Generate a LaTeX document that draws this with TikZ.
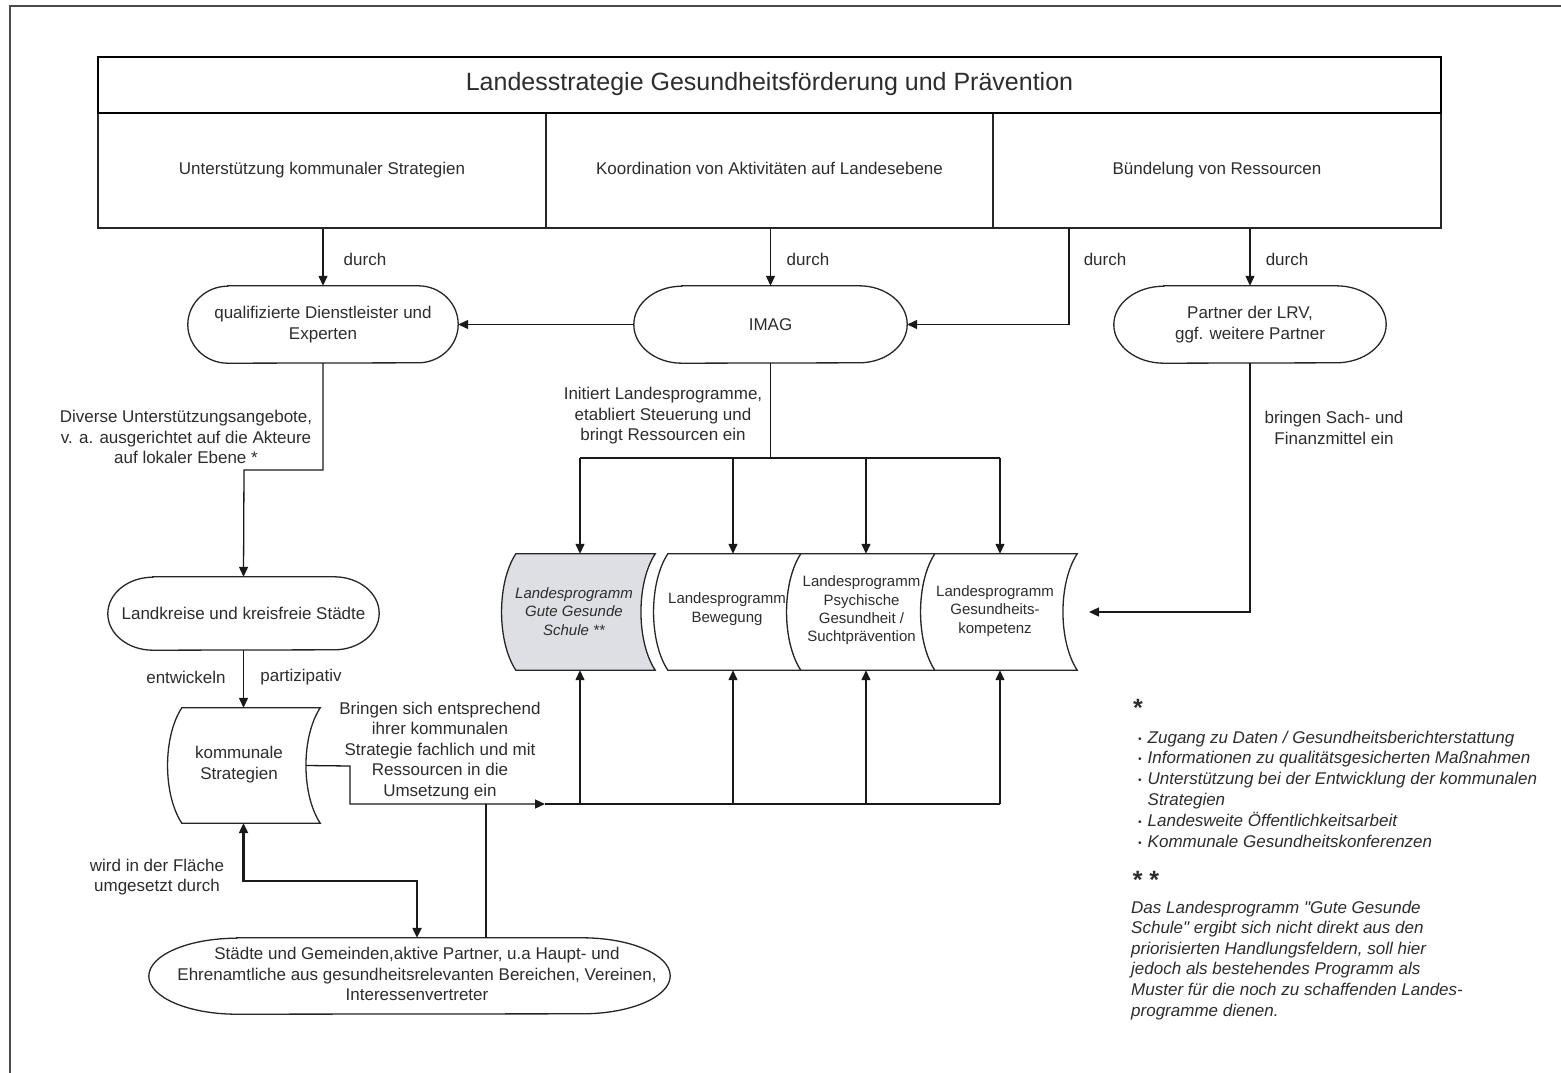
\documentclass[tikz,border=0pt]{standalone}
\usepackage{fontspec}
\setmainfont{Liberation Sans}[Ligatures=TeXOff]
\usetikzlibrary{arrows.meta,calc}
\definecolor{txt}{RGB}{45,45,45}
\definecolor{grayfill}{RGB}{221,223,228}
\tikzset{
  arr/.style={line width=1.3pt, draw=black!90, -{Triangle[length=10pt,width=9pt]}},
  dblarr/.style={line width=2.2pt, draw=black!90, {Triangle[length=10pt,width=9pt]}-{Triangle[length=10pt,width=9pt]}},
  conn/.style={line width=1.3pt, draw=black!90},
  lbl/.style={font=\fontsize{17}{20.5}\selectfont, text=txt, align=center, inner sep=0pt},
  plbl/.style={font=\fontsize{15}{18.3}\selectfont, text=txt, align=center, inner sep=0pt},
  shp/.style={draw=none, inner sep=0pt},
  outline/.style={line width=1.3pt, draw=black!85},
  cellbox/.style={draw=black!85, line width=1.5pt, minimum height=115pt, inner sep=0pt, lbl, text height=12pt, text depth=4pt},
}
\newcommand\stadium[3]{\draw[outline] ([xshift=#2]#1.north west) -- ([xshift=-#2]#1.north east) arc[start angle=90,end angle=-90,x radius=#2,y radius=#3] -- ([xshift=#2]#1.south west) arc[start angle=270,end angle=90,x radius=#2,y radius=#3] -- cycle;}
\newcommand\storeddata[2]{\draw[outline, fill=#2] (#1.north west) -- (#1.north east) .. controls ([shift={(-19pt,-29pt)}]#1.north east) and ([shift={(-19pt,29pt)}]#1.south east) .. (#1.south east) -- (#1.south west) .. controls ([shift={(-19pt,29pt)}]#1.south west) and ([shift={(-19pt,-29pt)}]#1.north west) .. cycle;}
\begin{document}
\begin{tikzpicture}[x=1pt,y=1pt]
\useasboundingbox (0,0) rectangle (1561,-1073);
\fill[white] (0,0) rectangle (1561,-1073);
% outer frame (left and top)
\draw[line width=1.5pt, draw=black!70] (10,-1073) -- (10,-6) -- (1561,-6);

% header
\node[cellbox, minimum width=448pt] (cell1) at (322,-170.5) {Unterstützung kommunaler Strategien};
\node[cellbox, minimum width=447pt] (cell2) at (769.5,-170.5) {Koordination von Aktivitäten auf Landesebene};
\node[cellbox, minimum width=448pt] (cell3) at (1217,-170.5) {Bündelung von Ressourcen};
\node[draw=black, line width=2.8pt, fill=white, minimum width=1343pt, minimum height=56pt, inner sep=0pt,
      font=\fontsize{25}{30}\selectfont, text=txt, text height=18pt, text depth=7pt] (title) at (769.5,-85) {Landesstrategie Gesundheitsförderung und Prävention};

% first level nodes
\node[shp, lbl, minimum width=270pt, minimum height=77pt] (qual) at (323,-324.5) {qualifizierte Dienstleister und\\Experten};
\stadium{qual}{40pt}{38.5pt}
\node[shp, lbl, minimum width=273pt, minimum height=77pt] (imag) at (770.5,-324.5) {IMAG};
\stadium{imag}{48pt}{38.5pt}
\node[shp, lbl, minimum width=272pt, minimum height=77pt] (partner) at (1250,-324.5) {Partner der LRV,\\ggf. weitere Partner};
\stadium{partner}{50pt}{38.5pt}

% labels durch
\node[lbl] (d1) at (365,-259) {durch};
\node[lbl] (d2) at (808,-259) {durch};
\node[lbl] (d3) at (1105,-259) {durch};
\node[lbl] (d4) at (1287,-259) {durch};

\coordinate (c3) at (1069,-228);
\draw[arr] (qual.north |- cell1.south) -- (qual.north);
\draw[arr] (imag.north |- cell2.south) -- (imag.north);
\draw[arr] (partner.north |- cell3.south) -- (partner.north);
\draw[arr] (c3) |- (imag.east);
\draw[arr] (imag.west) -- (qual.east);

% Landkreise
\node[shp, lbl, minimum width=271pt, minimum height=73pt] (land) at (243.5,-613.5) {Landkreise und kreisfreie Städte};
\stadium{land}{45pt}{36.5pt}
\coordinate (j1) at (244,-470);
\draw[arr] (qual.south) |- (j1) -- (land.north);
\node[lbl] (divtxt) at (186,-437) {Diverse Unterstützungsangebote,\\v. a. ausgerichtet auf die Akteure\\auf lokaler Ebene *};

% kommunale Strategien
\node[shp, minimum width=138pt, minimum height=115pt] (kom) at (251,-765.5) {};
\storeddata{kom}{white}
\node[lbl] (komt) at (239,-764.5) {kommunale\\Strategien};
\draw[arr] (land.south) -- (land.south |- kom.north);
\node[lbl] (entw) at (186,-677) {entwickeln};
\node[lbl] (part) at (301,-677) {partizipativ};

% Landesprogramme
\node[shp, minimum width=139pt, minimum height=116pt] (p1) at (585.5,-612) {};
\node[shp, minimum width=133pt, minimum height=116pt] (p2) at (734.5,-612) {};
\node[shp, minimum width=134pt, minimum height=116pt] (p3) at (868,-612) {};
\node[shp, minimum width=142pt, minimum height=116pt] (p4) at (1006,-612) {};
\storeddata{p1}{grayfill}
\storeddata{p2}{white}
\storeddata{p3}{white}
\storeddata{p4}{white}
\node[plbl, font={\fontsize{15}{18.3}\selectfont\itshape}] (p1t) at (574,-611.5) {Landesprogramm\\Gute Gesunde\\Schule **};
\node[plbl] (p2t) at (727,-609) {Landesprogramm\\Bewegung};
\node[plbl] (p3t) at (861.5,-610.5) {Landesprogramm\\Psychische\\Gesundheit /\\Suchtprävention};
\node[plbl] (p4t) at (995,-611) {Landesprogramm\\Gesundheits-\\kompetenz};

% IMAG distribution
\coordinate (t1) at (580,-458);
\coordinate (t2) at (733,-458);
\coordinate (t3) at (866,-458);
\coordinate (t4) at (1000,-458);
\draw[conn] (imag.south) -- (imag.south |- t1);
\draw[conn] (t1) -- (t4);
\draw[arr] (t1) -- (t1 |- p1.north);
\draw[arr] (t2) -- (t2 |- p2.north);
\draw[arr] (t3) -- (t3 |- p3.north);
\draw[arr] (t4) -- (t4 |- p4.north);
\node[lbl] (initxt) at (663,-416) {Initiert Landesprogramme,\\etabliert Steuerung und\\bringt Ressourcen ein};

% Partner to programmes
\coordinate (pt) at (1089,-612);
\draw[arr] (partner.south) |- (pt);
\node[lbl] (sachtxt) at (1334,-428) {bringen Sach- und\\Finanzmittel ein};

% kommunale Strategien bus
\coordinate (komR) at ([xshift=-14pt]kom.east);
\coordinate (bA) at (350,-766);
\coordinate (bB) at (350,-804);
\coordinate (bM) at (545,-804);
\coordinate (b1) at (580,-804);
\coordinate (b2) at (733,-804);
\coordinate (b3) at (866,-804);
\coordinate (b4) at (1000,-804);
\coordinate (bS) at (486,-804);
\draw[arr] (komR) -- (bA) -- (bB) -- (bM);
\draw[conn] (bM) -- (b4);
\draw[arr] (b1) -- (b1 |- p1.south);
\draw[arr] (b2) -- (b2 |- p2.south);
\draw[arr] (b3) -- (b3 |- p3.south);
\draw[arr] (b4) -- (b4 |- p4.south);
\node[lbl] (bringtxt) at (440,-751) {Bringen sich entsprechend\\ihrer kommunalen\\Strategie fachlich und mit\\Ressourcen in die\\Umsetzung ein};

% Staedte
\node[shp, minimum width=521pt, minimum height=76pt] (staedte) at (409.5,-976) {};
\stadium{staedte}{88pt}{38pt}
\node[lbl] (staedtet) at (417,-974) {Städte und Gemeinden,aktive Partner, u.a Haupt- und\\Ehrenamtliche aus gesundheitsrelevanten Bereichen, Vereinen,\\Interessenvertreter};
\draw[conn] (bS) -- (bS |- staedte.north);
\coordinate (j2) at (417,-881);
\draw[dblarr] (land.south |- kom.south) |- (j2) -- (j2 |- staedte.north);
\node[lbl] (wirdtxt) at (157,-877) {wird in der Fläche\\umgesetzt durch};

% footnotes
\node[font=\fontsize{25}{25}\selectfont\bfseries, text=txt, inner sep=0pt, anchor=base] (star1) at (1138,-716) {*};
\node[font=\fontsize{17}{20.8}\selectfont\itshape, text=txt, inner sep=0pt, anchor=base west] (list) at (1138,-743)
 {\begin{tabular}[t]{@{}l@{\hspace{6pt}}l@{}}
  \raisebox{1pt}{\fontsize{10}{10}\selectfont •} & Zugang zu Daten / Gesundheitsberichterstattung\\
  \raisebox{1pt}{\fontsize{10}{10}\selectfont •} & Informationen zu qualitätsgesicherten Maßnahmen\\
  \raisebox{1pt}{\fontsize{10}{10}\selectfont •} & Unterstützung bei der Entwicklung der kommunalen\\
   & Strategien\\
  \raisebox{1pt}{\fontsize{10}{10}\selectfont •} & Landesweite Öffentlichkeitsarbeit\\
  \raisebox{1pt}{\fontsize{10}{10}\selectfont •} & Kommunale Gesundheitskonferenzen
 \end{tabular}};
\node[font=\fontsize{25}{25}\selectfont\bfseries, text=txt, inner sep=0pt, anchor=base] (star2) at (1146,-888) {* *};
\node[font=\fontsize{17}{20.6}\selectfont\itshape, text=txt, inner sep=0pt, anchor=base west] (para) at (1131,-913)
 {\begin{tabular}[t]{@{}l@{}}
  Das Landesprogramm "Gute Gesunde\\
  Schule" ergibt sich nicht direkt aus den\\
  priorisierten Handlungsfeldern, soll hier\\
  jedoch als bestehendes Programm als\\
  Muster für die noch zu schaffenden Landes-\\
  programme dienen.
 \end{tabular}};
\end{tikzpicture}
\end{document}
